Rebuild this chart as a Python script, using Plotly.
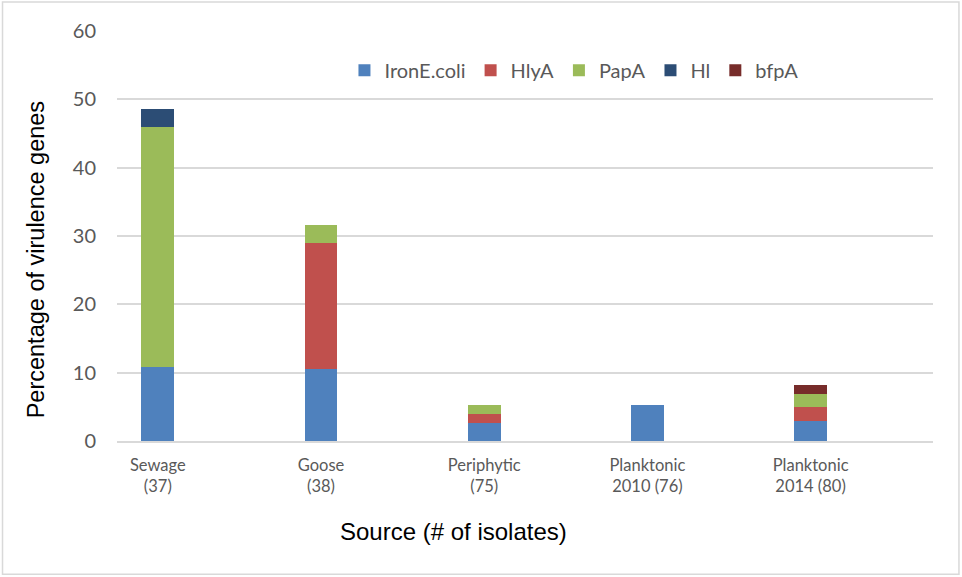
import plotly.graph_objects as go

# Sources (number of isolates) and percentage of isolates carrying each gene
sources = ["Sewage<br>(37)", "Goose<br>(38)", "Periphytic<br>(75)",
           "Planktonic<br>2010 (76)", "Planktonic<br>2014 (80)"]
positions = [0, 1, 2, 3, 4]

iron_ecoli = [10.81, 10.53, 2.67, 5.26, 2.95]
hlya = [0, 18.42, 1.33, 0, 2.0]
papa = [35.14, 2.63, 1.33, 0, 2.0]
hl = [2.70, 0, 0, 0, 0]
bfpa = [0, 0, 0, 0, 1.3]

series = [
    ("IronE.coli", iron_ecoli, "#4F81BD"),
    ("HlyA", hlya, "#C0504D"),
    ("PapA", papa, "#9BBB59"),
    ("Hl", hl, "#2C4D75"),
    ("bfpA", bfpa, "#772C2A"),
]

y_ticks = [0, 10, 20, 30, 40, 50, 60]

fig = go.Figure()
for name, vals, color in series:
    fig.add_trace(go.Bar(
        x=positions, y=vals, name=name, width=0.2,
        marker=dict(color=color, line=dict(width=0)),
    ))

label_font = "Lato, Calibri, Carlito, sans-serif"
title_font = "Liberation Sans, Arial, sans-serif"
grid = "#D9D9D9"

fig.update_layout(
    width=962, height=577,
    barmode="stack",
    paper_bgcolor="white", plot_bgcolor="white",
    margin=dict(l=117, r=29, t=30.5, b=135.5),
    showlegend=True,
    legend=dict(
        orientation="h", x=0.56, xanchor="center", y=0.904, yanchor="middle",
        font=dict(family=label_font, size=20, color="#595959"),
        bgcolor="rgba(0,0,0,0)", itemwidth=30, traceorder="normal",
    ),
    xaxis=dict(
        range=[-0.25, 4.75], tickvals=positions, ticktext=sources,
        showgrid=False, zeroline=False, showline=True, linecolor=grid,
        linewidth=2, ticks="", fixedrange=True, ticklabelstandoff=8,
        tickfont=dict(family=label_font, size=16.5, color="#595959"),
    ),
    yaxis=dict(
        range=[0, 60], tickvals=y_ticks, showgrid=True, gridcolor=grid,
        gridwidth=2, zeroline=False, showline=False, ticks="",
        ticklabelstandoff=20,
        tickfont=dict(family=label_font, size=20, color="#595959"),
    ),
    annotations=[
        dict(text="Source (# of isolates)", xref="paper", yref="paper",
             x=0.412, y=-0.2206, showarrow=False, xanchor="center", yanchor="middle",
             font=dict(family=title_font, size=24, color="black")),
        dict(text="Percentage of virulence genes", xref="paper", yref="paper",
             x=-0.0993, y=0.443, textangle=-90, showarrow=False,
             xanchor="center", yanchor="middle",
             font=dict(family=title_font, size=23.5, color="black")),
    ],
    shapes=[
        dict(type="rect", xref="paper", yref="paper",
             x0=-0.1403, x1=1.0318, y0=-0.3248, y1=1.0706,
             line=dict(color=grid, width=1.5), fillcolor="rgba(0,0,0,0)", layer="below"),
    ],
)

fig.write_html("out.html")
